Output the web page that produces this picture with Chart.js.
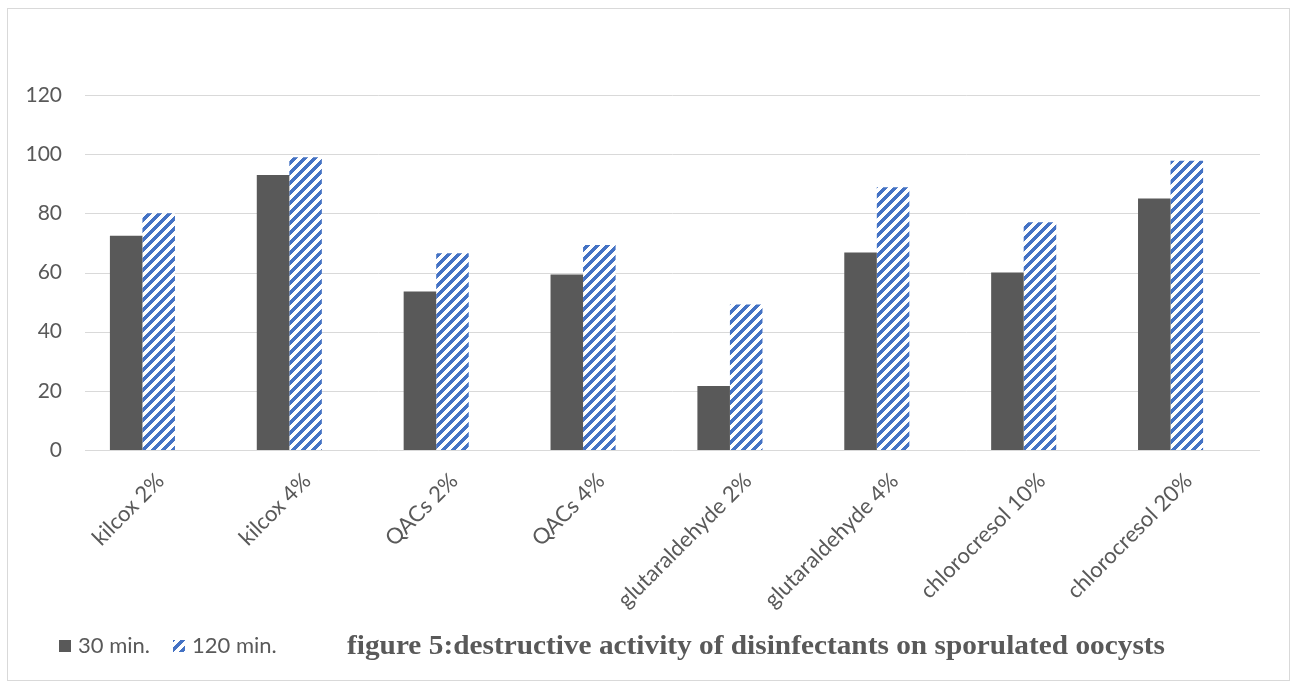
<!DOCTYPE html>
<html>
<head>
<meta charset="utf-8">
<title>Destructive activity of disinfectants</title>
<script src="https://cdn.jsdelivr.net/npm/chart.js@4.4.1/dist/chart.umd.min.js"></script>
<style>
  html, body { margin: 0; padding: 0; background: #ffffff; }
  #wrap { width: 1292px; height: 688px; }
</style>
</head>
<body>
<div id="wrap"><canvas id="c" width="1292" height="688"></canvas></div>
<script>
// Disinfectant treatments (x categories)
const categories = [
  'kilcox 2%', 'kilcox 4%', 'QACs 2%', 'QACs 4%',
  'glutaraldehyde 2%', 'glutaraldehyde 4%', 'chlorocresol 10%', 'chlorocresol 20%'
];
// Destructive activity (%) after each exposure time
const series30 = [72.4, 93, 53.6, 59.3, 21.6, 66.8, 60, 85];
const series120 = [80, 99, 66.5, 69.3, 49.2, 88.8, 77, 97.8];
const seriesNames = ['30 min.', '120 min.'];
// Value axis ticks
const yTicks = [0, 20, 40, 60, 80, 100, 120];

const TEXT = '#595959';
const DARK = '#595959';
const BLUE = '#4472C4';
const RULE = '#d9d9d9';

// Wide upward diagonal hatch tile
function makeHatch() {
  const n = 10;
  const t = document.createElement('canvas');
  t.width = n; t.height = n;
  const g = t.getContext('2d');
  g.fillStyle = '#ffffff';
  g.fillRect(0, 0, n, n);
  g.fillStyle = BLUE;
  for (let y = 0; y < n; y++) {
    for (let x = 0; x < n; x++) {
      if ((x + y) % n < 5) g.fillRect(x, y, 1, 1);
    }
  }
  return document.getElementById('c').getContext('2d').createPattern(t, 'repeat');
}
const hatch = makeHatch();

const decor = {
  id: 'decor',
  beforeDraw(chart) {
    const ctx = chart.ctx;
    ctx.save();
    ctx.fillStyle = '#ffffff';
    ctx.fillRect(0, 0, chart.width, chart.height);
    ctx.strokeStyle = RULE;
    ctx.lineWidth = 1;
    ctx.strokeRect(7.5, 8.5, 1282, 672);
    ctx.restore();
  },
  beforeDatasetsDraw(chart) {
    // horizontal value rules
    const ctx = chart.ctx;
    const y = chart.scales.y;
    ctx.save();
    ctx.strokeStyle = RULE;
    ctx.lineWidth = 1;
    yTicks.forEach(v => {
      const py = Math.round(y.getPixelForValue(v)) + 0.5;
      ctx.beginPath();
      ctx.moveTo(85, py);
      ctx.lineTo(1260, py);
      ctx.stroke();
    });
    ctx.restore();
  },
  afterDraw(chart) {
    const ctx = chart.ctx;
    ctx.save();
    // legend
    ctx.font = '22px Lato';
    ctx.textBaseline = 'alphabetic';
    ctx.fillStyle = DARK;
    ctx.fillRect(59, 640, 12, 12);
    ctx.fillStyle = TEXT;
    ctx.fillText(seriesNames[0], 78, 653);
    ctx.fillStyle = hatch;
    ctx.fillRect(173, 640, 12, 12);
    ctx.fillStyle = TEXT;
    ctx.fillText(seriesNames[1], 192, 653);
    // caption
    const caption = 'figure 5:destructive activity of disinfectants on sporulated oocysts';
    ctx.font = 'bold 28px "Liberation Serif"';
    const w = ctx.measureText(caption).width;
    ctx.translate(347, 654);
    ctx.scale(818 / w, 1);
    ctx.fillStyle = TEXT;
    ctx.fillText(caption, 0, 0);
    ctx.restore();
  }
};

new Chart(document.getElementById('c'), {
  type: 'bar',
  data: {
    labels: categories,
    datasets: [
      { label: seriesNames[0], data: series30, backgroundColor: DARK, borderWidth: 0 },
      { label: seriesNames[1], data: series120, backgroundColor: hatch, borderWidth: 0 }
    ]
  },
  options: {
    responsive: false,
    devicePixelRatio: 1,
    animation: false,
    events: [],
    layout: { padding: { top: 95, right: 48, left: 0, bottom: 0 } },
    datasets: { bar: { categoryPercentage: 0.443, barPercentage: 1 } },
    plugins: { legend: { display: false }, tooltip: { enabled: false } },
    scales: {
      x: {
        grid: { display: false },
        border: { display: false },
        ticks: {
          autoSkip: false, minRotation: 45, maxRotation: 45,
          color: TEXT, font: { family: 'Lato', size: 22 },
          padding: 10, labelOffset: 18
        },
        afterFit(s) { s.height = 688 - 450; }
      },
      y: {
        min: 0, max: 120,
        grid: { display: false, drawTicks: false },
        border: { display: false },
        ticks: {
          stepSize: 20, color: TEXT, font: { family: 'Lato', size: 21 }, padding: 7
        },
        afterFit(s) { s.width = 69; }
      }
    }
  },
  plugins: [decor]
});
</script>
</body>
</html>
